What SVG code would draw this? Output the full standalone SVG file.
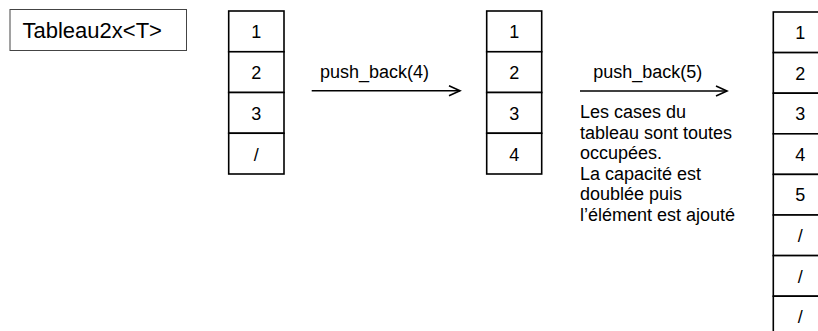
<svg xmlns="http://www.w3.org/2000/svg" width="818" height="331" viewBox="0 0 818 331">
<style>
text{font-family:"Liberation Sans",Arial,sans-serif;font-size:18px;fill:#000}
.cell{fill:#fff;stroke:#000;stroke-width:1.6}
.num{text-anchor:middle}
.title{font-size:22px}
.conn{stroke:#000;stroke-width:1.5;fill:none}
</style>
<defs>
<marker id="arr" markerWidth="14" markerHeight="12" refX="12" refY="6" orient="auto" markerUnits="userSpaceOnUse">
<path d="M1,1 L12,6 L1,11" fill="none" stroke="#000" stroke-width="1.6"/>
</marker>
</defs>
<rect width="818" height="331" fill="#fff"/>
<g id="title">
<rect x="10" y="9.5" width="176.5" height="41" fill="#fff" stroke="#444" stroke-width="1"/>
<text class="title" x="22.5" y="37.8">Tableau2x&lt;T&gt;</text>
</g>
<g id="array1">
<rect class="cell" x="228.7" y="11" width="55.3" height="40.75"/>
<rect class="cell" x="228.7" y="51.75" width="55.3" height="40.75"/>
<rect class="cell" x="228.7" y="92.5" width="55.3" height="40.75"/>
<rect class="cell" x="228.7" y="133.25" width="55.3" height="40.75"/>
<text class="num" x="256.3" y="38.3">1</text>
<text class="num" x="256.3" y="79">2</text>
<text class="num" x="256.3" y="119.8">3</text>
<text class="num" x="256.3" y="160.5">/</text>
</g>
<g id="array2">
<rect class="cell" x="486.7" y="11" width="55" height="40.75"/>
<rect class="cell" x="486.7" y="51.75" width="55" height="40.75"/>
<rect class="cell" x="486.7" y="92.5" width="55" height="40.75"/>
<rect class="cell" x="486.7" y="133.25" width="55" height="40.75"/>
<text class="num" x="514.2" y="38.3">1</text>
<text class="num" x="514.2" y="79">2</text>
<text class="num" x="514.2" y="119.8">3</text>
<text class="num" x="514.2" y="160.5">4</text>
</g>
<g id="array3">
<rect class="cell" x="773.3" y="12" width="54" height="40.6"/>
<rect class="cell" x="773.3" y="52.6" width="54" height="40.6"/>
<rect class="cell" x="773.3" y="93.2" width="54" height="40.6"/>
<rect class="cell" x="773.3" y="133.8" width="54" height="40.6"/>
<rect class="cell" x="773.3" y="174.4" width="54" height="40.6"/>
<rect class="cell" x="773.3" y="215" width="54" height="40.6"/>
<rect class="cell" x="773.3" y="255.6" width="54" height="40.6"/>
<rect class="cell" x="773.3" y="296.2" width="54" height="40.6"/>
<text class="num" x="800.3" y="39">1</text>
<text class="num" x="800.3" y="79.6">2</text>
<text class="num" x="800.3" y="120.2">3</text>
<text class="num" x="800.3" y="160.8">4</text>
<text class="num" x="800.3" y="201.4">5</text>
<text class="num" x="800.3" y="242">/</text>
<text class="num" x="800.3" y="282.6">/</text>
<text class="num" x="800.3" y="323.2">/</text>
</g>
<g id="connectors">
<line class="conn" x1="311.7" y1="90.8" x2="460" y2="90.8" marker-end="url(#arr)"/>
<text x="320" y="78.3">push_back(4)</text>
<line class="conn" x1="580" y1="91" x2="727" y2="91" marker-end="url(#arr)"/>
<text x="593.3" y="78.3">push_back(5)</text>
<text x="580" y="118.3">Les cases du</text>
<text x="580" y="138.8">tableau sont toutes</text>
<text x="580" y="159.3">occupées.</text>
<text x="580" y="179.8">La capacité est</text>
<text x="580" y="200.3">doublée puis</text>
<text x="580" y="220.8">l’élément est ajouté</text>
</g>
</svg>
